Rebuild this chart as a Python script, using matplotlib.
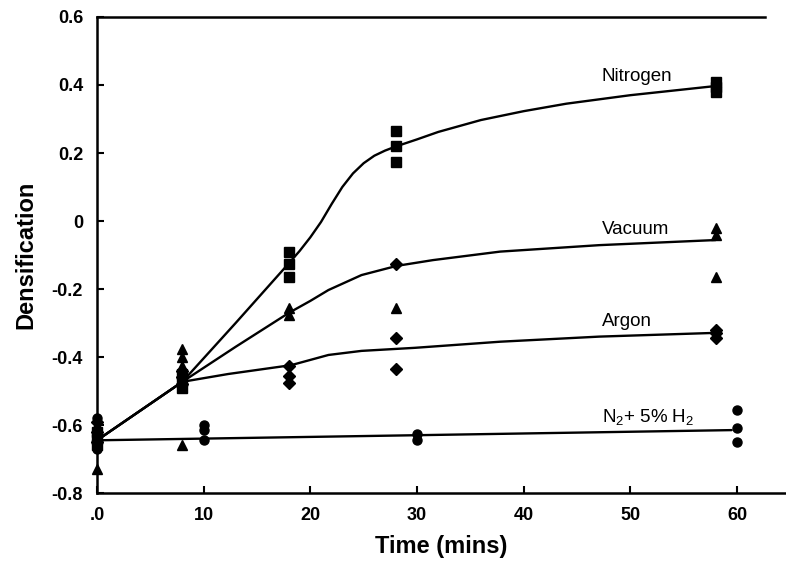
import matplotlib
matplotlib.use('Agg')
import matplotlib.pyplot as plt

# measured points (time in mins, densification)
nitrogen_t = [0, 0, 0, 8, 8, 8, 18, 18, 18, 28, 28, 28, 58, 58, 58]
nitrogen_d = [-0.62, -0.64, -0.66, -0.45, -0.47, -0.49, -0.09, -0.125, -0.165,
              0.265, 0.22, 0.175, 0.41, 0.395, 0.38]

vacuum_t = [0, 0, 0, 8, 8, 8, 8, 18, 18, 28, 58, 58, 58]
vacuum_d = [-0.60, -0.63, -0.73, -0.375, -0.40, -0.425, -0.66, -0.255, -0.275,
            -0.256, -0.02, -0.04, -0.165]

argon_t = [0, 0, 0, 8, 8, 8, 18, 18, 18, 28, 28, 28, 58, 58, 58]
argon_d = [-0.59, -0.62, -0.65, -0.44, -0.46, -0.48, -0.425, -0.455, -0.475,
           -0.126, -0.344, -0.435, -0.32, -0.33, -0.345]

h2_t = [0, 0, 0, 10, 10, 10, 30, 30, 60, 60, 60]
h2_d = [-0.58, -0.63, -0.67, -0.60, -0.615, -0.645, -0.625, -0.645, -0.555, -0.61, -0.65]

# fitted curves
nitrogen_fit_t = [0, 8, 13, 18, 19, 20, 21, 22, 23, 24, 25, 26, 27, 28, 30, 32, 36, 40, 44, 50, 58]
nitrogen_fit_d = [-0.645, -0.473, -0.30, -0.124, -0.088, -0.048, -0.003, 0.05, 0.1, 0.14,
                  0.17, 0.192, 0.207, 0.219, 0.24, 0.262, 0.297, 0.323, 0.345, 0.37, 0.397]

vacuum_fit_t = [0, 8, 13, 18, 20, 21.7, 24.8, 28.1, 31.5, 37.8, 47.1, 58]
vacuum_fit_d = [-0.645, -0.473, -0.37, -0.27, -0.235, -0.203, -0.159, -0.132, -0.115,
                -0.09, -0.071, -0.056]

argon_fit_t = [0, 8, 12.3, 18.2, 21.7, 24.8, 29.8, 37.8, 47.1, 58]
argon_fit_d = [-0.645, -0.473, -0.45, -0.424, -0.394, -0.382, -0.373, -0.355, -0.34, -0.329]

h2_fit_t = [0, 30, 59.5]
h2_fit_d = [-0.645, -0.63, -0.615]

labels = ['Nitrogen', 'Vacuum', 'Argon', 'N$_2$+ 5% H$_2$']
label_pos = [(47.3, 0.424), (47.3, -0.026), (47.3, -0.297), (47.3, -0.576)]

plt.rcParams['font.family'] = ['Liberation Sans', 'DejaVu Sans']
plt.rcParams['mathtext.default'] = 'regular'

fig = plt.figure(figsize=(7.86, 5.61), dpi=100)
ax = fig.add_axes([0.1234, 0.1212, 0.8753, 0.8485])

for t, d in [(nitrogen_fit_t, nitrogen_fit_d), (vacuum_fit_t, vacuum_fit_d),
             (argon_fit_t, argon_fit_d), (h2_fit_t, h2_fit_d)]:
    ax.plot(t, d, color='black', lw=1.7, solid_capstyle='round', solid_joinstyle='round')

ax.plot(nitrogen_t, nitrogen_d, ls='', marker='s', ms=7, color='black', clip_on=False)
ax.plot(vacuum_t, vacuum_d, ls='', marker='^', ms=6.5, color='black', clip_on=False)
ax.plot(argon_t, argon_d, ls='', marker='D', ms=6, color='black', clip_on=False)
ax.plot(h2_t, h2_d, ls='', marker='o', ms=6.5, color='black', clip_on=False)

for txt, (x, y) in zip(labels, label_pos):
    ax.text(x, y, txt, fontsize=13.5, ha='left', va='center')

ax.set_xlim(0, 64.5)
ax.set_ylim(-0.8, 0.6)
ax.set_xticks([0, 10, 20, 30, 40, 50, 60])
ax.set_xticklabels(['.0', '10', '20', '30', '40', '50', '60'])
ax.set_yticks([-0.8, -0.6, -0.4, -0.2, 0, 0.2, 0.4, 0.6])
ax.set_yticklabels(['-0.8', '-0.6', '-0.4', '-0.2', '0', '0.2', '0.4', '0.6'])
ax.tick_params(direction='in', length=5, width=1.5, labelsize=13, pad=10)
for lab in ax.get_xticklabels() + ax.get_yticklabels():
    lab.set_fontweight('bold')

ax.spines['right'].set_visible(False)
ax.spines['top'].set_bounds(0, 62.6)
for s in ['left', 'bottom', 'top']:
    ax.spines[s].set_linewidth(1.8)

ax.set_xlabel('Time (mins)', fontsize=17, fontweight='bold', labelpad=8)
ax.set_ylabel('Densification', fontsize=17, fontweight='bold', labelpad=10)

fig.savefig('out.png', dpi=100)
